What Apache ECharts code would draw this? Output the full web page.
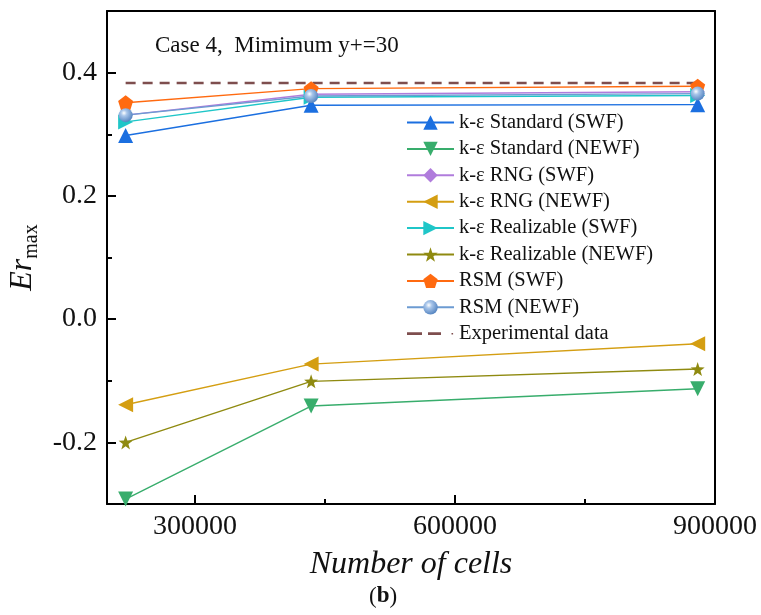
<!DOCTYPE html>
<html>
<head>
<meta charset="utf-8">
<script src="https://cdn.jsdelivr.net/npm/echarts@6/dist/echarts.min.js"></script>
<style>
html,body{margin:0;padding:0;background:#fff;}
#chart{width:761px;height:615px;}
</style>
</head>
<body>
<div id="chart"></div>
<script>
// ---- data ----
const cells = [220000, 434000, 880000];
const stdSWF   = [0.298, 0.347, 0.348];
const stdNEWF  = [-0.292, -0.141, -0.113];
const rngSWF   = [0.331, 0.365, 0.369];
const rngNEWF  = [-0.139, -0.073, -0.040];
const realSWF  = [0.320, 0.360, 0.363];
const realNEWF = [-0.200, -0.101, -0.081];
const rsmSWF   = [0.351, 0.374, 0.378];
const rsmNEWF  = [0.331, 0.362, 0.366];
const expData  = [0.383, 0.383, 0.383];
const xTickLabels = [300000, 600000, 900000];
const xMinorTicks = [450000, 750000];
const yTickLabels = [-0.2, 0.0, 0.2, 0.4];
const yMinorTicks = [-0.1, 0.1, 0.3];
const names = ['k-ε Standard (SWF)','k-ε Standard (NEWF)','k-ε RNG (SWF)','k-ε RNG (NEWF)',
  'k-ε Realizable (SWF)','k-ε Realizable (NEWF)','RSM (SWF)','RSM (NEWF)','Experimental data'];

const FONT = 'Liberation Serif';
const pentagon = 'path://M0,-10 L9.51,-3.09 L5.88,8.09 L-5.88,8.09 L-9.51,-3.09 Z';
const star = 'path://M0,-10 L2.35,-3.24 L9.51,-3.09 L3.80,1.24 L5.88,8.09 L0,4 L-5.88,8.09 L-3.80,1.24 L-9.51,-3.09 L-2.35,-3.24 Z';
const dashIcon = 'path://M0,0 h0.05 v0.05 h-0.05 Z M0,5.6 h15 v2.8 h-15 Z M21,5.6 h13 v2.8 h-13 Z M44.5,6.3 h1.6 v1.4 h-1.6 Z M46.95,13.95 h0.05 v0.05 h-0.05 Z';
const sphere = {type:'radial', x:0.38, y:0.35, r:0.7, colorStops:[
  {offset:0, color:'#ffffff'}, {offset:0.3, color:'#a9c6ea'}, {offset:1, color:'#4f80be'}]};

function mk(name, vals, color, symbol, size, rotate, extra) {
  const s = {
    name: name, type: 'line', xAxisIndex: 0, yAxisIndex: 0,
    data: cells.map((x, i) => [x, vals[i]]),
    symbol: symbol, symbolSize: size, symbolRotate: rotate || 0,
    showAllSymbol: true,
    lineStyle: {color: color, width: 1.4},
    itemStyle: {color: color},
    emphasis: {disabled: true},
    animation: false
  };
  return Object.assign(s, extra || {});
}

const series = [
  mk(names[0], stdSWF, '#1b6fe0', 'triangle', 15, 0),
  mk(names[1], stdNEWF, '#38ad6c', 'triangle', 15, 180),
  mk(names[2], rngSWF, '#b07cdc', 'diamond', 14, 0),
  mk(names[3], rngNEWF, '#d49e12', 'triangle', 15, 90),
  mk(names[4], realSWF, '#1fc6c8', 'triangle', 15, -90),
  mk(names[5], realNEWF, '#8f8a10', star, 14, 0),
  mk(names[6], rsmSWF, '#ff6a10', pentagon, 15, 0),
  mk(names[7], rsmNEWF, '#6c9bd2', 'circle', 14, 0, {itemStyle:{color: sphere}}),
  {
    name: names[8], type: 'line', xAxisIndex: 0, yAxisIndex: 0,
    data: cells.map((x, i) => [x, expData[i]]),
    symbol: 'none',
    lineStyle: {color: '#7e4e4e', width: 2.5, type: [10, 7]},
    itemStyle: {color: '#7e4e4e'},
    z: 1, animation: false
  }
];

const legendData = names.map((n, i) => i === 8 ? {name: n, icon: dashIcon} : {name: n});

const xMin = 198500, xMax = 900000, yMin = -0.3, yMax = 0.5;
const chart = echarts.init(document.getElementById('chart'), null, {renderer: 'canvas'});
chart.setOption({
  backgroundColor: '#fff',
  animation: false,
  grid: {left: 107, right: 46, top: 11, bottom: 111, containLabel: false, outerBoundsMode: 'none'},
  legend: {
    orient: 'vertical', left: 406, top: 112, padding: 0,
    itemWidth: 47, itemHeight: 18, itemGap: 5.4,
    data: legendData,
    textStyle: {fontFamily: FONT, fontSize: 20.5, color: '#111'}
  },
  xAxis: [
    {type: 'value', min: xMin, max: xMax, position: 'bottom',
     name: 'Number of cells', nameLocation: 'middle', nameGap: 45,
     nameTextStyle: {fontFamily: FONT, fontStyle: 'italic', fontSize: 32, color: '#111'},
     axisLine: {show: true, onZero: false, lineStyle: {color: '#000', width: 2}},
     axisTick: {show: true, inside: true, length: 9, customValues: xTickLabels, lineStyle: {color: '#000', width: 2}},
     axisLabel: {customValues: xTickLabels, fontFamily: FONT, fontSize: 28, color: '#111', margin: 9,
                 formatter: v => String(v)},
     splitLine: {show: false}},
    {type: 'value', min: xMin, max: xMax, position: 'bottom',
     axisLine: {show: false, onZero: false},
     axisTick: {show: true, inside: true, length: 5, customValues: xMinorTicks, lineStyle: {color: '#000', width: 2}},
     axisLabel: {show: false}, splitLine: {show: false}},
    {type: 'value', min: xMin, max: xMax, position: 'top',
     axisLine: {show: true, onZero: false, lineStyle: {color: '#000', width: 2}},
     axisTick: {show: false}, axisLabel: {show: false}, splitLine: {show: false}}
  ],
  yAxis: [
    {type: 'value', min: yMin, max: yMax, position: 'left',
     name: '{e|Er}{m|max}', nameLocation: 'middle', nameGap: 59, nameRotate: 90,
     nameTextStyle: {rich: {
       e: {fontFamily: FONT, fontStyle: 'italic', fontSize: 32, color: '#111', lineHeight: 38},
       m: {fontFamily: FONT, fontSize: 20, color: '#111', lineHeight: 15, verticalAlign: 'bottom'}
     }},
     axisLine: {show: true, onZero: false, lineStyle: {color: '#000', width: 2}},
     axisTick: {show: true, inside: true, length: 9, customValues: yTickLabels, lineStyle: {color: '#000', width: 2}},
     axisLabel: {customValues: yTickLabels, fontFamily: FONT, fontSize: 28, color: '#111', margin: 10,
                 formatter: v => Number(v).toFixed(1)},
     splitLine: {show: false}},
    {type: 'value', min: yMin, max: yMax, position: 'left',
     axisLine: {show: false, onZero: false},
     axisTick: {show: true, inside: true, length: 5, customValues: yMinorTicks, lineStyle: {color: '#000', width: 2}},
     axisLabel: {show: false}, splitLine: {show: false}},
    {type: 'value', min: yMin, max: yMax, position: 'right',
     axisLine: {show: true, onZero: false, lineStyle: {color: '#000', width: 2}},
     axisTick: {show: false}, axisLabel: {show: false}, splitLine: {show: false}}
  ],
  graphic: [
    {type: 'text', left: 155, top: 34,
     style: {text: 'Case 4,  Mimimum y+=30', fontFamily: FONT, fontSize: 23, fill: '#111'}},
    {type: 'text', left: 369, top: 585,
     style: {text: '({b|b})', fontFamily: FONT, fontSize: 23, fill: '#111',
             rich: {b: {fontFamily: FONT, fontSize: 23, fontWeight: 'bold', fill: '#111'}}}}
  ],
  series: series
});
</script>
</body>
</html>
